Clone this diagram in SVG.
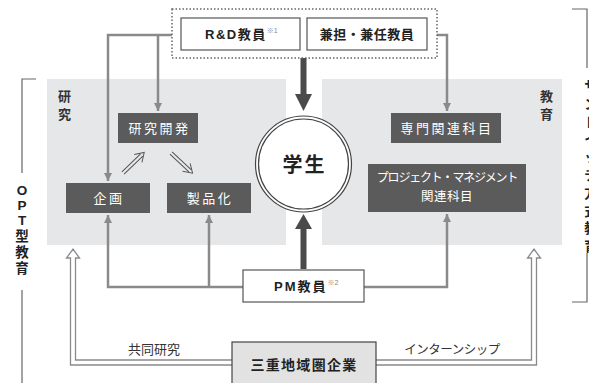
<svg xmlns="http://www.w3.org/2000/svg" width="589" height="383" viewBox="0 0 589 383">
<style>
text{font-family:"Noto Sans CJK JP","Liberation Sans",sans-serif}
.lat{font-family:"Liberation Sans","Noto Sans CJK JP",sans-serif}
.panel{fill:#e6e7e9}
.dk{fill:#5b5b5b}
.wt{fill:#fff;font-size:13px;letter-spacing:2.5px}
.wbox{fill:#fff;stroke:#555;stroke-width:1.2}
.lbl{fill:#333;font-size:13px;font-weight:bold}
.b{fill:#222;font-weight:bold}
.g{fill:none;stroke:#8a8a8a;stroke-width:2.5}
.thin{fill:none;stroke:#555;stroke-width:1}
.hol{fill:#fff;stroke:#8a8a8a;stroke-width:1.3}
.brk{fill:none;stroke:#666;stroke-width:1.2}
.vt{fill:#222;font-size:13.5px;font-weight:bold;text-anchor:middle}
.sup{fill:#888;font-size:7px;font-weight:normal}
</style>
<defs>
<marker id="ga" markerUnits="userSpaceOnUse" markerWidth="9" markerHeight="9" refX="8" refY="4" orient="auto">
<path d="M0,0 L8,4 L0,8 z" fill="#8a8a8a"/>
</marker>
</defs>

<!-- panels -->
<g id="panel-research">
<rect class="panel" x="47" y="79" width="239" height="166"/>
<text class="lbl" x="58" y="101">研</text>
<text class="lbl" x="58" y="119">究</text>
</g>
<g id="panel-education">
<rect class="panel" x="322" y="79" width="240" height="166"/>
<text class="lbl" x="540" y="101">教</text>
<text class="lbl" x="540" y="119">育</text>
</g>

<!-- brackets -->
<g id="bracket-opt">
<path class="brk" d="M36,79 H22 V173"/>
<path class="brk" d="M22,290 V383"/>
<text class="vt lat" x="22" y="195">O</text>
<text class="vt lat" x="22" y="210">P</text>
<text class="vt lat" x="22" y="225">T</text>
<text class="vt" x="22" y="241">型</text>
<text class="vt" x="22" y="257">教</text>
<text class="vt" x="22" y="273">育</text>
</g>
<g id="bracket-sandwich">
<path class="brk" d="M572,9 H587 V68"/>
<path class="brk" d="M587,253 V302 H572"/>
<text class="vt" x="591" y="91">サ</text>
<text class="vt" x="591" y="109">ン</text>
<text class="vt" x="591" y="127">ド</text>
<text class="vt" x="591" y="144">イ</text>
<text class="vt" x="591" y="162">ッ</text>
<text class="vt" x="591" y="180">チ</text>
<text class="vt" x="591" y="198">方</text>
<text class="vt" x="591" y="216">式</text>
<text class="vt" x="591" y="233">教</text>
<text class="vt" x="591" y="251">育</text>
</g>

<!-- connectors -->
<g id="connectors">
<path class="g" d="M172,35 H108 V181" marker-end="url(#ga)"/>
<path class="g" d="M158,35 V111" marker-end="url(#ga)"/>
<path class="g" d="M437,35 H447 V111" marker-end="url(#ga)"/>
<path class="g" d="M243,287 H108 V215" marker-end="url(#ga)"/>
<path class="g" d="M209,287 V215" marker-end="url(#ga)"/>
<path class="g" d="M364,287 H447 V214" marker-end="url(#ga)"/>
<!-- thick arrows -->
<path d="M300.5,58 H306.5 V94 H312 L303.5,111 L295,94 H300.5 Z" fill="#4a4a4a"/>
<path d="M300.5,269 H306.5 V229 H312 L303.5,214 L295,229 H300.5 Z" fill="#4a4a4a"/>
<!-- diagonal double arrows -->
<g transform="translate(123,173) rotate(-44)">
<path class="thin" d="M0,-1.6 H26 M0,1.6 H26 M21,-5.5 L29.5,0 L21,5.5"/>
</g>
<g transform="translate(171,153) rotate(43)">
<path class="thin" d="M0,-1.6 H26 M0,1.6 H26 M21,-5.5 L29.5,0 L21,5.5"/>
</g>
<!-- hollow double connectors -->
<path class="hol" d="M232,365 H70.5 V258 H66.5 L73,249 L79.5,258 H75.5 V360 H232"/>
<path class="hol" d="M376,360 H531.5 V258 H527.5 L534,249 L540.5,258 H536.5 V365 H376"/>
<text x="154" y="354" font-size="13" fill="#333" text-anchor="middle">共同研究</text>
<text x="452" y="354" font-size="12.5" fill="#333" text-anchor="middle" letter-spacing="-0.5">インターンシップ</text>
</g>

<!-- top group -->
<g id="faculty-group">
<rect x="172" y="9" width="265" height="49" fill="none" stroke="#666" stroke-width="1.5" stroke-dasharray="1.5 2"/>
</g>
<g id="rd-faculty">
<rect class="wbox" x="181" y="18" width="119" height="32"/>
<text class="b lat" x="205" y="39" font-size="13" letter-spacing="1.5">R&amp;D教員<tspan class="sup" dy="-6" letter-spacing="0">※1</tspan></text>
</g>
<g id="joint-faculty">
<rect class="wbox" x="307" y="18" width="120" height="32"/>
<text class="b" x="367" y="39" font-size="13" text-anchor="middle" letter-spacing="0.5">兼担・兼任教員</text>
</g>

<!-- research nodes -->
<g id="rnd">
<rect class="dk" x="118" y="113" width="80" height="30"/>
<text class="wt" x="159.5" y="133" text-anchor="middle">研究開発</text>
</g>
<g id="planning">
<rect class="dk" x="66" y="183" width="84" height="30"/>
<text class="wt" x="109" y="203" text-anchor="middle">企画</text>
</g>
<g id="productization">
<rect class="dk" x="167" y="183" width="84" height="30"/>
<text class="wt" x="210" y="203" text-anchor="middle">製品化</text>
</g>

<!-- education nodes -->
<g id="specialized">
<rect class="dk" x="391" y="113" width="110" height="30"/>
<text class="wt" x="447" y="133" text-anchor="middle" letter-spacing="2">専門関連科目</text>
</g>
<g id="pm-subjects">
<rect class="dk" x="368" y="164" width="158" height="48"/>
<text x="447" y="182" fill="#fff" font-size="12" text-anchor="middle" letter-spacing="-1.2">プロジェクト・マネジメント</text>
<text x="447" y="201" fill="#fff" font-size="12.5" text-anchor="middle" letter-spacing="0.5">関連科目</text>
</g>

<!-- student -->
<g id="student">
<circle cx="303.5" cy="164" r="48" fill="#fff" stroke="#444" stroke-width="1.2"/>
<circle cx="303.5" cy="164" r="45" fill="none" stroke="#444" stroke-width="1.2"/>
<text class="b" x="304.5" y="172" font-size="20" text-anchor="middle" letter-spacing="2">学生</text>
</g>

<!-- PM faculty -->
<g id="pm-faculty">
<rect class="wbox" x="243" y="270" width="121" height="32"/>
<text class="b lat" x="274" y="291" font-size="13" letter-spacing="2">PM教員<tspan class="sup" dy="-6" letter-spacing="0">※2</tspan></text>
</g>

<!-- companies -->
<g id="companies">
<rect x="232" y="342" width="144" height="45" fill="#e2e2e2" stroke="#444" stroke-width="1.2"/>
<text class="b" x="304" y="370" font-size="14" text-anchor="middle" letter-spacing="1.3">三重地域圏企業</text>
</g>
</svg>
